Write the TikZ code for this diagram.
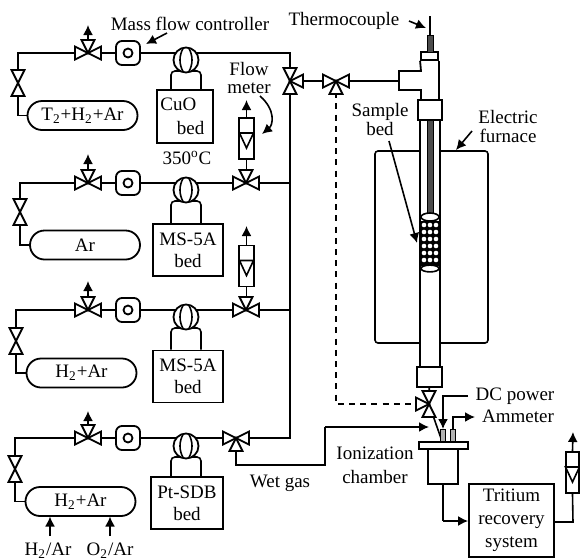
\documentclass[tikz,border=0pt]{standalone}
\usepackage{fontspec}
\setmainfont{Liberation Serif}
\usetikzlibrary{arrows.meta,calc,backgrounds,shapes.misc}
\tikzset{
  pipe/.style     = {line width=0.8pt},
  sig/.style      = {-{Latex[length=5pt,width=5pt]}, line width=0.8pt},
  bedbox/.style   = {draw, line width=0.9pt, fill=white, rectangle, minimum height=26pt,
                     minimum width=35pt, align=center, inner sep=0pt},
  tank/.style     = {draw, line width=0.9pt, fill=white, rounded rectangle, minimum width=55pt,
                     minimum height=14.5pt, inner sep=0pt},
  mfc/.style      = {draw, line width=0.9pt, fill=white, rectangle, rounded corners=3pt,
                     minimum size=12pt, inner sep=0pt},
  mfcdot/.style   = {draw, line width=0.9pt, circle, minimum size=4.5pt, inner sep=0pt},
  switch/.style   = {draw, line width=0.9pt, fill=white, circle, minimum size=12.5pt, inner sep=0pt},
  meterbox/.style = {draw, line width=0.8pt, fill=white, rectangle, minimum width=7.5pt,
                     minimum height=20.5pt, inner sep=0pt},
  label/.style    = {inner sep=0pt, align=center},
}
\newcommand{\valvetri}[2]{\begin{scope}[shift={(#1)},rotate=#2]
  \draw[line width=0.9pt,fill=white] (0,0) -- (13,6.5) -- (13,-6.5) -- cycle;
\end{scope}}
\newcommand{\metertri}[1]{\draw[pipe] ($(#1.center)+(-7,-5.5)$) -- ($(#1.center)+(7,-5.5)$)
  -- ($(#1.center)+(0,9.5)$) -- cycle;}
\newcommand{\switcharcs}[2]{%
  \draw[pipe] ($(#1)+(-3,-11.5)$) .. controls ($(#1)+(-7,-4)$) and ($(#1)+(-7,4)$) .. ($(#1)+(-3,11.5)$);
  \draw[pipe] ($(#1)+(3,-11.5)$) .. controls ($(#1)+(7,-4)$) and ($(#1)+(7,4)$) .. ($(#1)+(3,11.5)$);
  \begin{scope}[on background layer]
  \draw[pipe,rounded corners=2pt] ({$(#1)+(-15,0)$} |- #2.north) -- ($(#1)+(-15,11)$) -- ($(#1)+(-5,11)$);
  \draw[pipe,rounded corners=2pt] ({$(#1)+(15,0)$} |- #2.north) -- ($(#1)+(15,11)$) -- ($(#1)+(5,11)$);
  \end{scope}}
\begin{document}
\begin{tikzpicture}[x=0.5pt,y=-0.5pt,font=\fontsize{9.5}{11}\selectfont]
\useasboundingbox (0,0) rectangle (580,559);
% ---- headers and main line ----
\coordinate (C1) at (290,53);
\coordinate (C4) at (290,438);
% ---- line 1: tritium gas ----
\node[tank] (T1) at (82.5,115.5) {T\textsubscript{2}+H\textsubscript{2}+Ar};
\node[mfc] (M1) at (128,53) {};
\node[mfcdot] (M1d) at (M1) {};
\node[switch] (S1) at (186,60) {};
\node[bedbox,minimum width=28pt,minimum height=26.5pt] (B1) at (185,116.5) {\hspace*{-0.7em}CuO\\[1pt]\hspace*{0.6em}bed};
\coordinate (W1) at (18,83);
\coordinate (V1) at (88,53);
\coordinate (U1) at (88,25);
\coordinate (L1) at (18,53);
\coordinate (X1) at (290,81);
% ---- line 2: argon ----
\node[tank] (T2) at (85,245) {Ar};
\node[mfc] (M2) at (128,183) {};
\node[mfcdot] (M2d) at (M2) {};
\node[switch] (S2) at (186,190) {};
\node[bedbox] (B2) at (188,250) {MS-5A\\bed};
\coordinate (W2) at (20,212);
\coordinate (V2) at (88,183);
\coordinate (U2) at (88,154);
\coordinate (L2) at (20,183);
\coordinate (F2) at (246,183);
\node[meterbox] (G2) at (246.5,138.5) {};
\coordinate (A2) at (246.5,100);
\coordinate (R2) at (290,183);
% ---- line 3: hydrogen ----
\node[tank] (T3) at (81.5,373) {H\textsubscript{2}+Ar};
\node[mfc] (M3) at (128,310) {};
\node[mfcdot] (M3d) at (M3) {};
\node[switch] (S3) at (186,317) {};
\node[bedbox] (B3) at (188,376.5) {MS-5A\\bed};
\coordinate (W3) at (16,341);
\coordinate (V3) at (88,310);
\coordinate (U3) at (88,281);
\coordinate (L3) at (16,310);
\coordinate (F3) at (246,310);
\node[meterbox] (G3) at (246.5,266) {};
\coordinate (A3) at (246.5,226);
\coordinate (R3) at (290,310);
% ---- line 4: oxidation ----
\node[tank] (T4) at (80.5,501.5) {H\textsubscript{2}+Ar};
\node[mfc] (M4) at (128,438) {};
\node[mfcdot] (M4d) at (M4) {};
\node[switch] (S4) at (186,446) {};
\node[bedbox,minimum width=36pt] (B4) at (187,503) {Pt-SDB\\bed};
\coordinate (W4) at (15,469);
\coordinate (V4) at (88,438);
\coordinate (U4) at (88,411);
\coordinate (L4) at (15,438);
\coordinate (X4) at (236,438);
\coordinate (D4) at (236,465);
\coordinate (E4) at (325,465);
\coordinate (N4) at (325,427);
\node[label] (H2in) at (48,551) {H\textsubscript{2}/Ar};
\node[label] (O2in) at (110,551) {O\textsubscript{2}/Ar};
\coordinate (H2t) at (50,516.5);
\coordinate (O2t) at (110,516.5);
\coordinate (H2b) at (50,536);
\coordinate (O2b) at (110,536);
% ---- reactor column ----
\coordinate (X2) at (336,81);
\coordinate (TP) at (399,81);
\coordinate (K1) at (336,404);
\coordinate (X3) at (429,404);
\node[draw,line width=0.9pt,minimum width=12pt,minimum height=10pt,inner sep=0pt,fill=white] (Cl) at (430,110) {};
\node[draw,line width=0.9pt,minimum width=12.5pt,minimum height=10pt,inner sep=0pt,fill=white] (Cb) at (429.5,377) {};
\node[draw,line width=0.9pt,minimum width=8.5pt,minimum height=4pt,inner sep=0pt,fill=white] (Cp) at (429.5,56) {};
% ---- ionization chamber and recovery ----
\node[draw,line width=0.9pt,minimum width=24.5pt,minimum height=3.5pt,inner sep=0pt,fill=white] (Fl) at (443.5,445.5) {};
\node[draw,line width=0.9pt,minimum width=15pt,minimum height=17.5pt,inner sep=0pt,fill=white] (IC) at (443,466.5) {};
\node[draw,line width=0.5pt,fill=black!30,minimum width=2.5pt,minimum height=6pt,inner sep=0pt] (e1) at (443,435.5) {};
\node[draw,line width=0.5pt,fill=black!30,minimum width=2.5pt,minimum height=6pt,inner sep=0pt] (e2) at (453,435.5) {};
\node[draw,line width=0.9pt,minimum width=42.5pt,minimum height=36.5pt,inner sep=0pt,align=center] (TR) at (511.5,520.5) {Tritium\\[0.5pt]recovery\\[0.5pt]system};
\node[meterbox,minimum width=6.5pt] (G5) at (572.5,472.5) {};
\coordinate (A5) at (573,432);
\coordinate (P5) at (573,522);
\coordinate (K6) at (443,521);
\coordinate (DC) at (468,396);
\coordinate (K7) at (443,396);
\coordinate (AM) at (475,417);
% ---- pipes behind the parts ----
\begin{scope}[on background layer]
\draw[pipe] (T1.west) -| (W1) -- (L1) -- (V1) -- (M1) -- (C1) -- (C4) -- (X4);
\draw[pipe] (T2.west) -| (W2) -- (L2) -- (V2) -- (M2) -- (R2);
\draw[pipe] (T3.west) -| (W3) -- (L3) -- (V3) -- (M3) -- (R3);
\draw[pipe] (T4.west) -| (W4) -- (L4) -- (V4) -- (M4) -- (X4);
\draw[pipe] (F2) -- (F2 -| G2) -- (G2);
\draw[pipe] (F3) -- (F3 -| G3) -- (G3);
\draw[pipe] (X1) -- (X2) -- (TP);
\draw[pipe] (X4) -- (D4) -- (E4) -- (N4);
\draw[pipe] (Cb) -- (X3) -- (Fl);
\end{scope}
\draw[sig] (V1) -- (U1);
\draw[sig] (V2) -- (U2);
\draw[sig] (V3) -- (U3);
\draw[sig] (V4) -- (U4);
\draw[sig] (G2) -- (A2);
\draw[sig] (G3) -- (A3);
\draw[sig] (H2b) -- (H2t);
\draw[sig] (O2b) -- (O2t);
\draw[sig] (N4) -- (X3 |- N4);
\draw[line width=1pt,dash pattern=on 3pt off 2.6pt] (X2) -- (K1) -- ($(X3)+(-12,0)$);
\draw[sig] (DC) -- (K7) -- (e1.north);
\draw[sig] (e2.north) |- (AM);
\draw[pipe] (IC.south) -- (K6);
\draw[sig] (K6) -- (TR.west |- K6);
\draw[pipe] (TR.east |- P5) -- (P5) -- (G5.south);
\draw[sig] (G5.north) -- (A5);
% ---- valves ----
\valvetri{W1}{90}\valvetri{W1}{270}
\valvetri{W2}{90}\valvetri{W2}{270}
\valvetri{W3}{90}\valvetri{W3}{270}
\valvetri{W4}{90}\valvetri{W4}{270}
\valvetri{V1}{0}\valvetri{V1}{180}\valvetri{V1}{90}
\valvetri{V2}{0}\valvetri{V2}{180}\valvetri{V2}{90}
\valvetri{V3}{0}\valvetri{V3}{180}\valvetri{V3}{90}
\valvetri{V4}{0}\valvetri{V4}{180}\valvetri{V4}{90}
\valvetri{F2}{0}\valvetri{F2}{180}\valvetri{F2}{90}
\valvetri{F3}{0}\valvetri{F3}{180}\valvetri{F3}{90}
\valvetri{X1}{90}\valvetri{X1}{270}\valvetri{X1}{0}
\valvetri{X2}{0}\valvetri{X2}{180}\valvetri{X2}{270}
\valvetri{X3}{90}\valvetri{X3}{270}\valvetri{X3}{180}
\valvetri{X4}{0}\valvetri{X4}{180}\valvetri{X4}{270}
% ---- meters and beds ----
\metertri{G2}\metertri{G3}\metertri{G5}
\switcharcs{S1}{B1}\switcharcs{S2}{B2}\switcharcs{S3}{B3}\switcharcs{S4}{B4}
% ---- column and furnace, drawn directly ----
\draw[line width=0.9pt] (Cp.south west) -- (421,71) -- (399,71) -- (399,90) -- (421,90) -- (Cl.north -| 421,0);
\draw[line width=0.9pt] (Cp.south east) -- (Cl.north -| Cp.south east);
\draw[pipe] (430,16) -- (430,35);
\draw[line width=0.5pt,fill=black!70] (427,35) rectangle (433,52);
\draw[line width=0.9pt] (420,120) -- (420,367) (440,120) -- (440,367);
\draw[line width=0.5pt,fill=black!70] (427,120) rectangle (433,213);
\draw[fill=black] (421,221) rectangle (439,265);
\foreach \px in {424,430,436} \foreach \py in {225,232,239,246,253,260}
  \fill[white] (\px,\py) circle (1.15pt);
\draw[pipe,fill=white] (430,217) ellipse (4.5pt and 2pt);
\draw[pipe,fill=white] (430,268.5) ellipse (4.5pt and 1.7pt);
\draw[pipe,rounded corners=1.5pt] (420,151) -- (375,151) -- (375,343) -- (420,343);
\draw[pipe,rounded corners=1.5pt] (440,151) -- (488,151) -- (488,343) -- (440,343);
% ---- labels and leaders ----
\node[label] (lMFC) at (190,24) {Mass flow controller};
\node[label] (lTC) at (344,21) {Thermocouple};
\node[label] (lFM) at (249,78) {Flow\\[-2pt]meter};
\node[label] (lT) at (187,158) {350\textsuperscript{o}C};
\node[label] (lSB) at (380,119.5) {Sample\\[-1.2pt]bed};
\node[label] (lEF) at (508,126.5) {Electric\\[-1.2pt]furnace};
\node[label] (lDC) at (515,396) {DC power};
\node[label] (lAM) at (518,416) {Ammeter};
\node[label] (lIC) at (375,465) {Ionization\\[1pt]chamber};
\node[label] (lWG) at (280,483) {Wet gas};
\coordinate (a1) at (167,33);
\coordinate (a2) at (146,44);
\coordinate (b1) at (409,21);
\coordinate (b2) at (426,28);
\coordinate (c1) at (260,96);
\coordinate (c2) at (262,134);
\coordinate (d1) at (389,141);
\coordinate (d2) at (417,243);
\coordinate (f1) at (472,131);
\coordinate (f2) at (456,150);
\draw[sig] (a1) -- (a2);
\draw[sig] (b1) -- (b2);
\draw[sig] (c1) .. controls (276,110) and (273,125) .. (c2);
\draw[sig] (d1) -- (d2);
\draw[sig] (f1) -- (f2);
\end{tikzpicture}
\end{document}
